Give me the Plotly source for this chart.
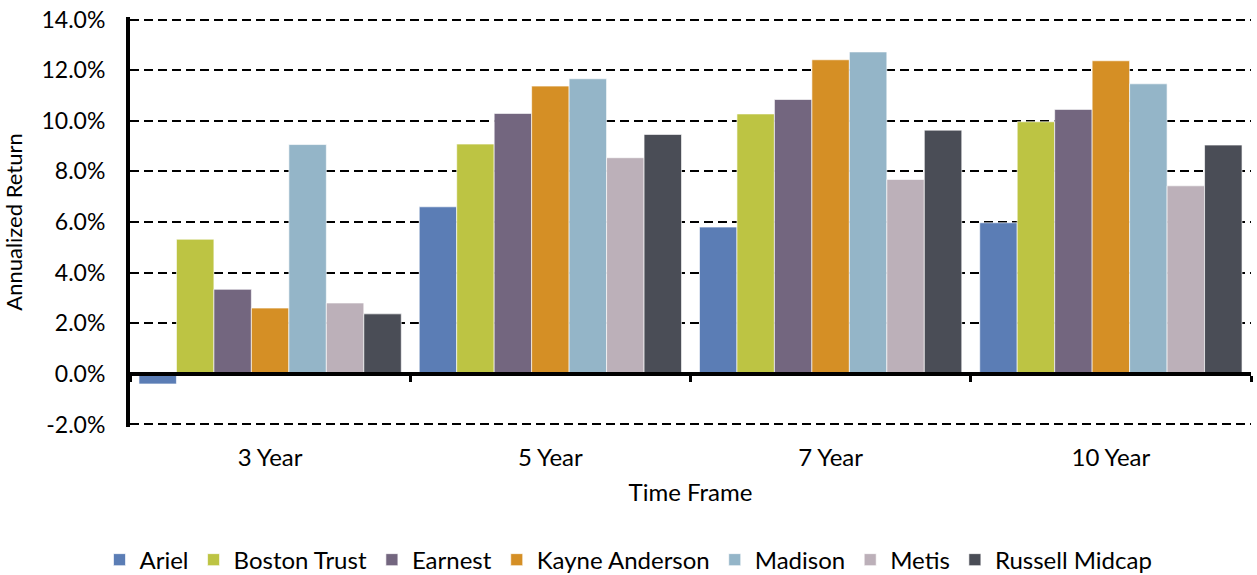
import plotly.graph_objects as go

categories = ["3 Year", "5 Year", "7 Year", "10 Year"]
series_names = ["Ariel", "Boston Trust", "Earnest", "Kayne Anderson", "Madison", "Metis", "Russell Midcap"]
ariel = [-0.4, 6.6, 5.8, 5.97]
boston_trust = [5.32, 9.08, 10.27, 9.96]
earnest = [3.34, 10.29, 10.84, 10.45]
kayne_anderson = [2.6, 11.37, 12.41, 12.37]
madison = [9.06, 11.66, 12.72, 11.46]
metis = [2.8, 8.54, 7.68, 7.43]
russell_midcap = [2.37, 9.46, 9.63, 9.04]
colors = ["#5B7DB5", "#BDC443", "#73667F", "#D58F25", "#94B5C8", "#BCB0B9", "#4A4D56"]
y_ticks = [-2, 0, 2, 4, 6, 8, 10, 12, 14]
y_ticktext = ["-2.0%", "0.0%", "2.0%", "4.0%", "6.0%", "8.0%", "10.0%", "12.0%", "14.0%"]

values = [ariel, boston_trust, earnest, kayne_anderson, madison, metis, russell_midcap]
FONT = "Lato"

fig = go.Figure()
for name, vals, col in zip(series_names, values, colors):
    fig.add_trace(go.Bar(
        x=categories, y=vals, name=name,
        marker=dict(color=col, line=dict(color="rgba(255,255,255,0.8)", width=0.8)),
    ))

# invisible helper trace for the zero-line axis with boundary ticks
fig.add_trace(go.Scatter(
    x=categories, y=[0] * len(categories), xaxis="x2", mode="markers",
    marker=dict(opacity=0), showlegend=False, hoverinfo="skip",
))

y_lo, y_hi = -2.1, 14.1
fig.update_layout(
    width=1257, height=575,
    margin=dict(l=130, r=6, t=17, b=148),
    paper_bgcolor="white", plot_bgcolor="white",
    barmode="group", bargap=0.064, bargroupgap=0,
    font=dict(family=FONT, color="black", size=22),
    xaxis=dict(
        type="category", categoryarray=categories, range=[-0.5, 3.5],
        showline=False, showgrid=False, zeroline=False, ticks="",
        tickfont=dict(size=24), ticklabelstandoff=14,
        title=dict(text="Time Frame", font=dict(size=24), standoff=14),
    ),
    xaxis2=dict(
        type="category", categoryarray=categories, range=[-0.5, 3.5],
        overlaying="x", anchor="free", position=(0 - y_lo) / (y_hi - y_lo), side="bottom",
        showline=True, linecolor="black", linewidth=4,
        ticks="outside", tickson="boundaries", ticklen=6, tickwidth=3, tickcolor="black",
        showticklabels=False, showgrid=False, zeroline=False,
    ),
    yaxis=dict(
        range=[y_lo, y_hi], tickvals=y_ticks, ticktext=y_ticktext,
        showgrid=True, gridcolor="black", griddash="9px,5px", gridwidth=1.5,
        zeroline=False, showline=True, linecolor="black", linewidth=4,
        ticks="", ticklabelstandoff=16, tickfont=dict(size=23),
        title=dict(text="Annualized Return", font=dict(size=22), standoff=14),
    ),
    legend=dict(
        orientation="h", xref="container", yref="container",
        x=0.5, xanchor="center", y=0.026, yanchor="middle",
        font=dict(size=24), itemwidth=30, traceorder="normal",
    ),
)

fig.write_html("out.html", config={"displayModeBar": False},
               post_script="document.body.style.margin='0';")
